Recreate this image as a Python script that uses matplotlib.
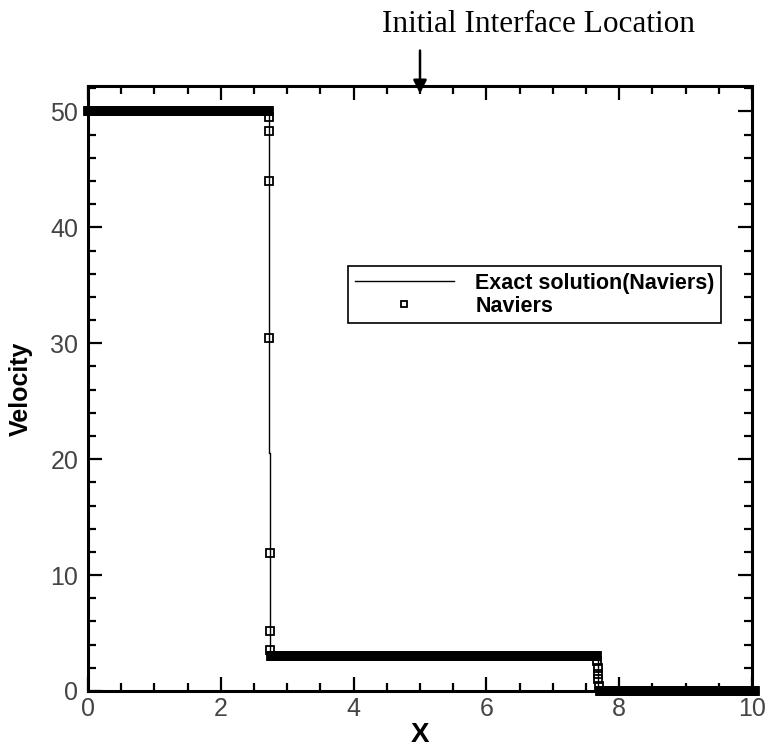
"""
Velocity profile: exact solution vs Naviers numerical result
"""
import numpy as np
import matplotlib
matplotlib.use('Agg')
import matplotlib.pyplot as plt
from matplotlib.ticker import MultipleLocator

# Exact solution (piecewise)
exact_x = [0.0, 2.73, 2.73, 2.745, 2.745, 7.68, 7.68, 10.0]
exact_v = [50.0, 50.0, 20.5, 20.5, 3.0, 3.0, 0.0, 0.0]

# Numerical (Naviers) solution: plateaus on a uniform mesh plus points inside the jumps
mesh_dx = 0.01
plateau_start = [0.0, 2.76, 7.71]
plateau_end = [2.72, 7.66, 10.04]
plateau_level = [50.0, 3.0, 0.0]

jump1_x = [2.73, 2.73, 2.73, 2.73, 2.74, 2.74, 2.74]
jump1_v = [49.5, 48.3, 44.0, 30.5, 11.9, 5.2, 3.5]
jump2_x = [7.67, 7.68, 7.68, 7.68, 7.69]
jump2_v = [2.6, 2.0, 1.5, 1.0, 0.4]

num_x, num_v = [], []
for a, b, lev in zip(plateau_start, plateau_end, plateau_level):
    xs = np.arange(a, b + mesh_dx / 2, mesh_dx)
    num_x.extend(xs)
    num_v.extend([lev] * len(xs))
num_x += jump1_x + jump2_x
num_v += jump1_v + jump2_v

fig = plt.figure(figsize=(7.68, 7.47), dpi=100)
ax = fig.add_axes([88 / 768, 56 / 747, 664 / 768, 605 / 747])

ax.plot(exact_x, exact_v, color='black', linewidth=1.0, label='Exact solution(Naviers)')
ax.plot(num_x, num_v, linestyle='none', marker='s', markersize=5.2,
        markerfacecolor='none', markeredgecolor='black', markeredgewidth=1.3,
        clip_on=False, label='Naviers')

ax.set_xlim(0, 10)
ax.set_ylim(0, 52.2)
ax.xaxis.set_major_locator(MultipleLocator(2))
ax.xaxis.set_minor_locator(MultipleLocator(0.5))
ax.yaxis.set_major_locator(MultipleLocator(10))
ax.yaxis.set_minor_locator(MultipleLocator(2))

for s in ax.spines.values():
    s.set_linewidth(2.2)
ax.tick_params(which='both', direction='in', top=True, right=True, width=1.6)
ax.tick_params(which='major', length=10, labelsize=18, labelcolor='#444444', pad=4)
ax.tick_params(axis='y', which='major', pad=7)
ax.tick_params(which='minor', length=6)
for lab in ax.get_xticklabels() + ax.get_yticklabels():
    lab.set_family(['Liberation Sans Narrow', 'Liberation Sans'])

ax.set_xlabel('X', fontsize=20, fontweight='bold', family='Liberation Sans', va='center')
ax.xaxis.set_label_coords(0.5, -0.073)
ax.set_ylabel('Velocity', fontsize=18, fontweight='bold', family='Liberation Sans', va='center')
ax.yaxis.set_label_coords(-0.101, 0.5)

leg = ax.legend(loc='upper left', bbox_to_anchor=(0.392, 0.702), borderaxespad=0,
                fancybox=False, edgecolor='black', framealpha=1, handlelength=4.6,
                borderpad=0.3, labelspacing=0.1, handletextpad=1.0, markerscale=0.7,
                prop={'family': 'Liberation Sans', 'weight': 'bold', 'size': 15.5})
leg.get_frame().set_linewidth(1.2)

# Annotation of initial interface location
ax.annotate('', xy=(5.0, 51.3), xytext=(5.0, 55.5), annotation_clip=False,
            arrowprops=dict(arrowstyle='-|>', color='black', lw=1.8, mutation_scale=20))
fig.text(539 / 768, 1 - 24 / 747, 'Initial Interface Location', ha='center', va='center',
         fontsize=22.5, family='Liberation Serif')

plt.savefig('out.png', dpi=100)
plt.close()
